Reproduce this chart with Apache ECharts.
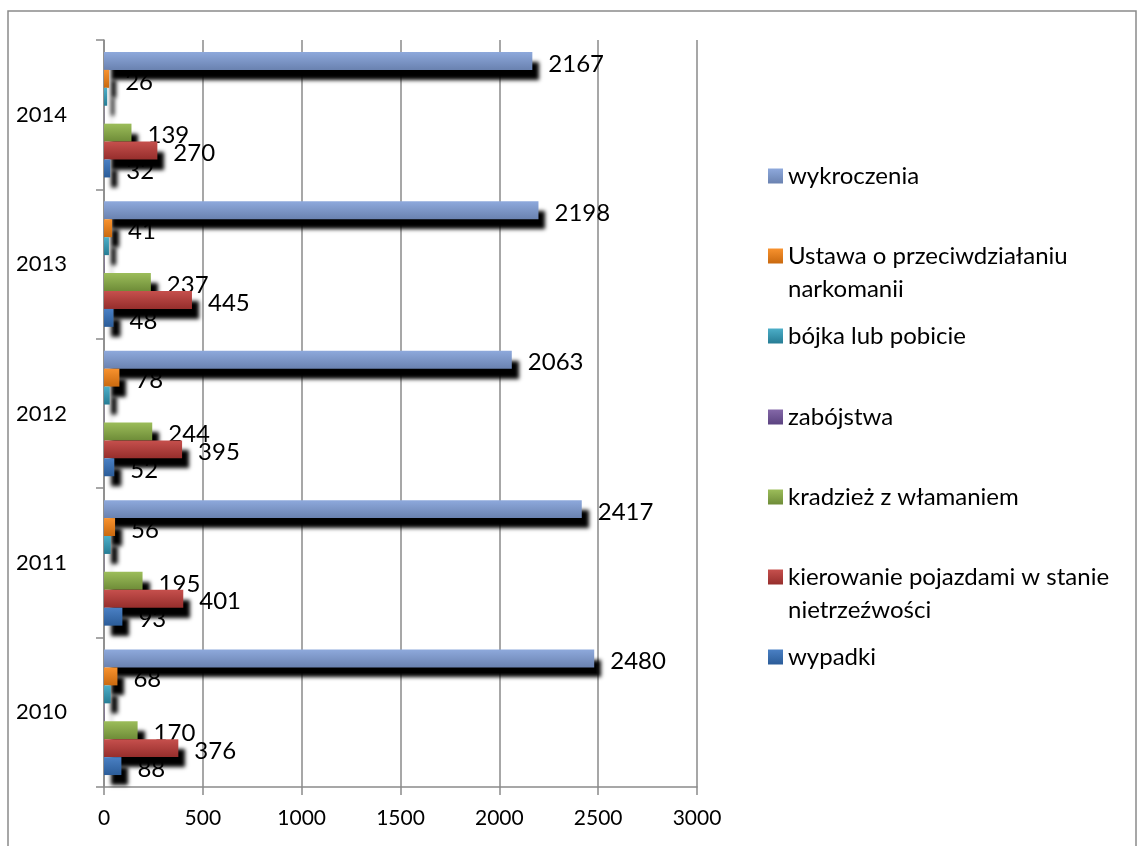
<!DOCTYPE html>
<html><head><meta charset="utf-8">
<script src="https://cdn.jsdelivr.net/npm/echarts@6/dist/echarts.min.js"></script>
<style>html,body{margin:0;padding:0;background:#fff}#c{width:1137px;height:846px}</style>
</head><body><div id="c"></div>
<script>
// ---- data ----
const years = ['2010', '2011', '2012', '2013', '2014'];
const wykroczenia = [2480, 2417, 2063, 2198, 2167];
const ustawa = [68, 56, 78, 41, 26];
const bojka = [34, 34, 29, 25, 16];
const zabojstwa = [2, 1, 1, 2, 1];
const kradziez = [170, 195, 244, 237, 139];
const kierowanie = [376, 401, 395, 445, 270];
const wypadki = [88, 93, 52, 48, 32];
const xMin = 0, xMax = 3000, xStep = 500;

// listed from the top bar of each group to the bottom one
const seriesNames = [
  'wykroczenia',
  'Ustawa o przeciwdziałaniu narkomanii',
  'bójka lub pobicie',
  'zabójstwa',
  'kradzież z włamaniem',
  'kierowanie pojazdami w stanie nietrzeźwości',
  'wypadki'
];
const seriesValues = [wykroczenia, ustawa, bojka, zabojstwa, kradziez, kierowanie, wypadki];
const showLabel = [true, true, false, false, true, true, true];
const legendText = {
  'Ustawa o przeciwdziałaniu narkomanii': '\nUstawa o przeciwdziałaniu\nnarkomanii',
  'kierowanie pojazdami w stanie nietrzeźwości': '\nkierowanie pojazdami w stanie\nnietrzeźwości'
};

// ---- styles ----
const gradients = [
  ['#8EA9DC', '#6A82B0'],
  ['#F8922E', '#C9690F'],
  ['#4CAEC8', '#267C94'],
  ['#8468A8', '#5B4380'],
  ['#9CBD5A', '#6E8C38'],
  ['#C6504D', '#962E2C'],
  ['#4A80C4', '#2B5C98']
];
const FONT = 'Lato';
const grad = c => new echarts.graphic.LinearGradient(0, 0, 0, 1, [{offset: 0, color: c[0]}, {offset: 1, color: c[1]}]);

const series = [];
seriesNames.forEach((n, i) => {
  series.push({
    name: n, type: 'bar', yAxisIndex: 0, data: seriesValues[i],
    barGap: 0, barCategoryGap: '16%',
    z: 2 + i,
    itemStyle: {
      color: grad(gradients[i]),
      shadowColor: '#000', shadowBlur: 4, shadowOffsetX: 7, shadowOffsetY: 10
    },
    emphasis: {disabled: true},
    label: {show: false}
  });
});
seriesNames.forEach((n, i) => {
  series.push({
    name: n, type: 'bar', yAxisIndex: 1, data: seriesValues[i],
    barGap: 0, barCategoryGap: '16%', z: 1, silent: true,
    itemStyle: {color: 'rgba(0,0,0,0)'},
    emphasis: {disabled: true},
    label: {show: showLabel[i], position: 'right', distance: 16, offset: [0, 3],
      fontFamily: FONT, fontSize: 24, color: '#000'}
  });
});

const legendCenters = [176, 256, 336, 417, 497, 577, 657];
const legends = seriesNames.map((n, k) => {
  const multi = !!legendText[n];
  return {
    orient: 'vertical', left: 768,
    top: legendCenters[k] - (multi ? 49.5 : 16.5),
    padding: 0, itemWidth: 15, itemHeight: 15, icon: 'rect',
    data: [n],
    formatter: name => legendText[name] || name,
    itemStyle: {shadowBlur: 0, shadowOffsetX: 0, shadowOffsetY: 0, shadowColor: 'rgba(0,0,0,0)'},
    textStyle: {fontFamily: FONT, fontSize: 24, color: '#000', lineHeight: 33}
  };
});

const axisGray = '#8a8a8a';
const chart = echarts.init(document.getElementById('c'), null, {renderer: 'canvas'});
chart.setOption({
  animation: false,
  backgroundColor: '#fff',
  graphic: [{
    type: 'rect', z: -10,
    shape: {x: 8, y: 11, width: 1128, height: 850},
    style: {fill: 'none', stroke: axisGray, lineWidth: 1.5}
  }],
  grid: {left: 104, right: 440, top: 40, bottom: 59, containLabel: false},
  xAxis: {
    type: 'value', min: xMin, max: xMax, interval: xStep,
    axisLine: {show: true, lineStyle: {color: axisGray, width: 1.5}},
    axisTick: {show: true, length: 8, lineStyle: {color: axisGray, width: 1.5}},
    splitLine: {show: true, lineStyle: {color: axisGray, width: 1.5}},
    axisLabel: {fontFamily: FONT, fontSize: 21, color: '#000', margin: 21,
      formatter: v => String(v)}
  },
  yAxis: [{
    type: 'category', data: years,
    axisLine: {show: true, lineStyle: {color: axisGray, width: 1.5}},
    axisTick: {show: true, length: 8, lineStyle: {color: axisGray, width: 1.5}},
    axisLabel: {fontFamily: FONT, fontSize: 22, color: '#000', margin: 37}
  }, {
    type: 'category', data: years, show: false
  }],
  legend: legends,
  series: series
});
</script>
</body></html>
